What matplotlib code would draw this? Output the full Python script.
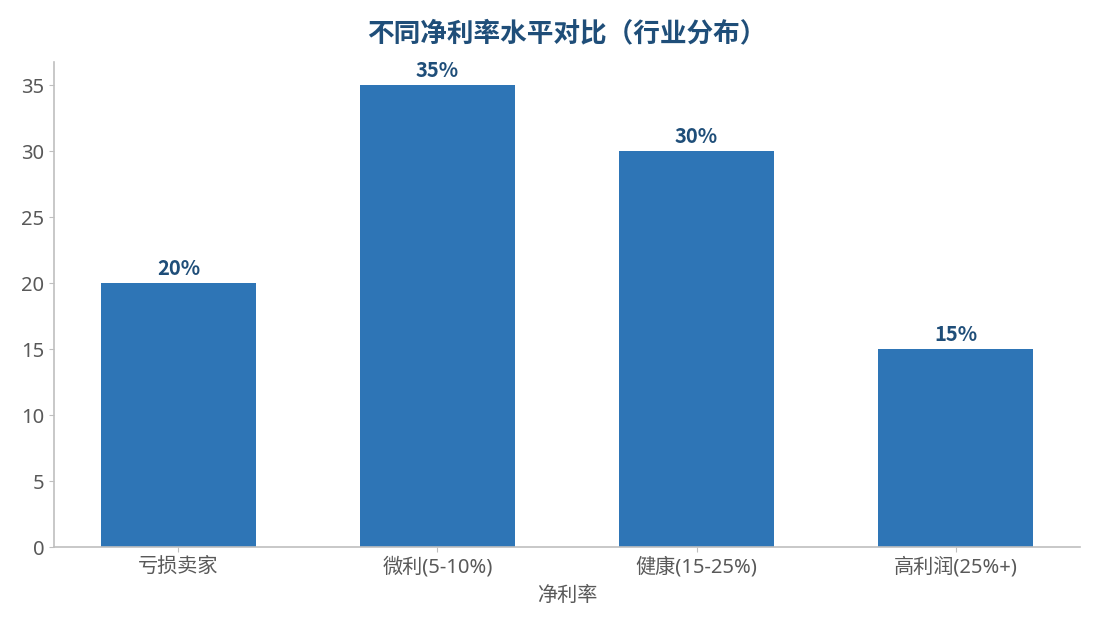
import matplotlib.pyplot as plt

plt.rcParams['font.family'] = ['Noto Sans', 'Noto Sans CJK SC', 'DejaVu Sans']

# data
categories = ["亏损卖家", "微利(5-10%)", "健康(15-25%)", "高利润(25%+)"]
shares = [20, 35, 30, 15]
value_labels = ["20%", "35%", "30%", "15%"]

fig = plt.figure(figsize=(10.95, 6.3), dpi=100)
ax = fig.add_axes([0.0493, 0.1317, 0.937, 0.77])

bars = ax.bar(categories, shares, width=0.6, color="#2E75B6")

for rect, lab in zip(bars, value_labels):
    ax.annotate(lab, (rect.get_x() + rect.get_width() / 2, rect.get_height()),
                xytext=(0, 3), textcoords="offset points", ha="center", va="bottom",
                fontsize=14.5, fontweight="bold", color="#1F4E79",
                family=["Noto Sans CJK SC", "DejaVu Sans"])

ax.set_ylim(0, 36.75)
ax.set_yticks([0, 5, 10, 15, 20, 25, 30, 35])
ax.set_title("不同净利率水平对比（行业分布）", fontsize=19.2, fontweight="bold",
             color="#1F4E79", pad=15)
ax.set_xlabel("净利率", fontsize=14.5, color="#595959", labelpad=6)

for side in ["top", "right"]:
    ax.spines[side].set_visible(False)
for side in ["left", "bottom"]:
    ax.spines[side].set_color("#BFBFBF")
    ax.spines[side].set_linewidth(1.2)
ax.tick_params(colors="#BFBFBF", labelcolor="#595959", labelsize=14.5)

fig.savefig("out.png", dpi=100)
